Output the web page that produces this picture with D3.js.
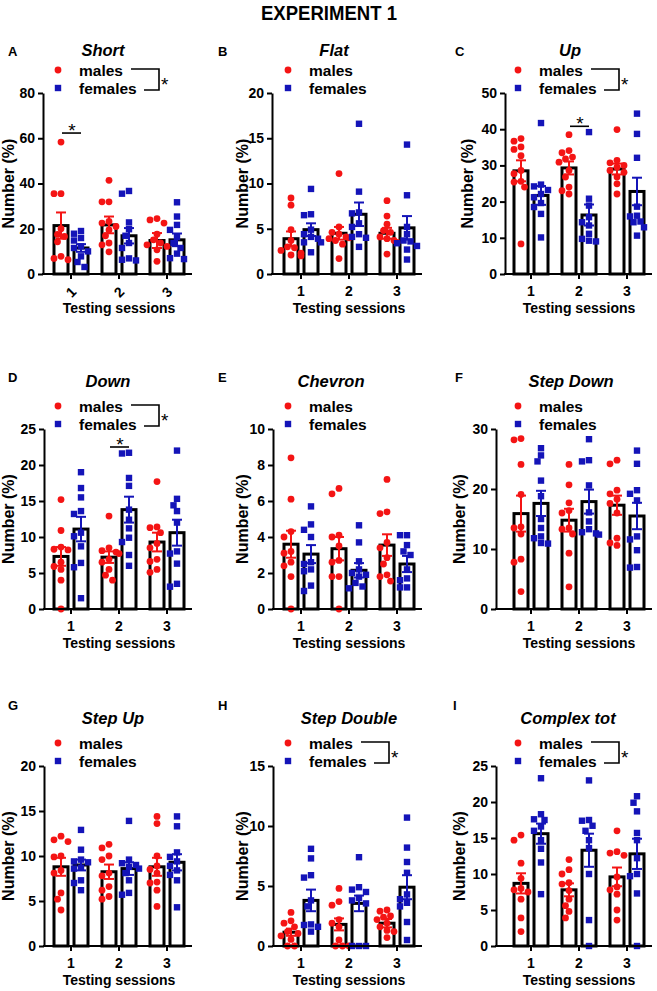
<!DOCTYPE html>
<html>
<head>
<meta charset="utf-8">
<script src="https://cdn.jsdelivr.net/npm/d3@7"></script>
<style>
  body { margin: 0; background: #fff; }
  svg { font-family: "Liberation Sans", Arial, sans-serif; }
</style>
</head>
<body>
<div id="chart"></div>
<script>
// ---- data ----
const sessions = [1, 2, 3];
const panelLetters = ["A", "B", "C", "D", "E", "F", "G", "H", "I"];
const panelTitles = ["Short", "Flat", "Up", "Down", "Chevron", "Step Down", "Step Up", "Step Double", "Complex tot"];
const yMax = [80, 20, 50, 25, 10, 30, 20, 15, 25];
const yStep = [20, 5, 10, 5, 2, 10, 5, 5, 5];
const seriesNames = ["males", "females"];

const maleMean = [[21.4, 21.7, 14.8], [3.9, 4.5, 4.5], [28.5, 29.3, 29.0], [7.3, 7.2, 9.3], [3.6, 3.35, 3.55],
                  [15.9, 14.8, 17.3], [8.8, 8.25, 8.8], [1.15, 1.8, 1.9], [8.7, 7.8, 9.6]];
const maleSem = [[5.8, 3.7, 3.3], [0.8, 0.7, 0.6], [2.9, 1.8, 1.5], [1.3, 0.8, 1.3], [0.75, 0.65, 0.6],
                 [3.0, 1.9, 1.6], [1.0, 0.8, 1.0], [0.3, 0.5, 0.35], [1.4, 0.9, 1.3]];
const femaleMean = [[11.5, 16.9, 15.1], [4.9, 6.6, 5.1], [21.7, 16.3, 22.8], [11.1, 13.8, 10.6], [3.05, 2.15, 2.5],
                    [17.6, 17.9, 15.5], [9.0, 8.6, 9.3], [3.8, 3.55, 4.9], [15.6, 13.3, 12.8]];
const femaleSem = [[1.7, 3.4, 2.8], [0.7, 1.3, 1.3], [2.6, 2.9, 3.8], [1.7, 1.8, 1.8], [0.5, 0.4, 0.45],
                   [2.1, 2.0, 2.2], [0.6, 0.7, 0.9], [0.9, 0.65, 1.0], [1.4, 2.3, 2.1]];

const malePoints = [
  [[58.3, 35.5, 35.5, 20, 17.5, 16.6, 14.2, 7.8, 6.3, 6.9], [41.4, 31.9, 31.9, 23.2, 22.5, 21, 19.5, 16.9, 13.7, 12.9, 9.8], [24.5, 23.9, 22.5, 17.6, 15.1, 13.7, 12.9, 10.7, 5.6, 12.2]],
  [[8.4, 7.6, 4.9, 3.7, 3.0, 2.9, 2.6, 2.3, 2.1, 2.0], [11.1, 4.6, 4.4, 4.1, 4.0, 3.9, 3.7, 3.3, 1.7, 5.2], [8.1, 6.4, 5.5, 4.6, 4.1, 3.9, 3.7, 3.5, 2.2, 4.8]],
  [[37.4, 36.7, 35.1, 34.4, 32.7, 28.6, 27.7, 25.6, 25.4, 24, 8.3], [38.5, 34.1, 33.5, 32.3, 31.8, 30.9, 28.6, 26.8, 24, 22.1, 23], [39.9, 31.4, 30.7, 30, 29.5, 28.6, 28.1, 26.8, 24.9, 22.1]],
  [[15.2, 10.9, 8.6, 8.3, 8.2, 6.5, 5.9, 5.5, 4.0, 0], [12.9, 8.5, 8.1, 7.9, 7.7, 6.9, 6.5, 5.5, 4.7, 4.0], [17.7, 11.4, 11.3, 10.6, 9.1, 8.5, 6.9, 6.6, 5.5, 5.1]],
  [[8.4, 6.1, 4.3, 4.0, 3.2, 3.1, 2.6, 2.4, 1.8, 0], [6.7, 6.4, 4.1, 4.0, 3.5, 2.7, 2.6, 1.8, 1.8, 0], [7.2, 5.4, 5.3, 3.7, 3.4, 2.85, 2.5, 1.9, 1.8, 1.55]],
  [[28.4, 28.2, 24.1, 19.1, 13.5, 13.7, 12.5, 8.3, 7.8, 2.9], [24.1, 20.7, 17.7, 16.4, 16.0, 13.5, 13.3, 12.5, 9.3, 3.7], [24.8, 24.2, 19.8, 19.2, 18.3, 17.6, 16.0, 11.8, 11.0, 10.6]],
  [[12.2, 11.8, 11.6, 10, 9.9, 8.4, 8.1, 5.9, 5.2, 4.0], [11.3, 10.9, 10, 9.6, 8.1, 7.8, 6.6, 6.2, 5.5, 5.2], [14.4, 13.6, 10, 8.9, 8.5, 8.1, 7.1, 7.0, 6.2, 4.4]],
  [[2.8, 2.1, 1.9, 1.6, 1.2, 1.05, 0.85, 0.55, 0, 0], [4.8, 3.7, 3.4, 2.2, 1.9, 1.6, 0.5, 0, 0, 0], [3.0, 2.9, 2.5, 2.4, 2.2, 1.9, 1.6, 1.3, 1.2, 0.7]],
  [[15.4, 14.7, 11.5, 9.4, 8, 7.8, 6.5, 3.9, 2, 7.5], [12, 10.6, 10, 8.8, 8.6, 7.7, 6.5, 5.6, 4.8, 3.9], [16, 13.1, 12.9, 12.6, 9.6, 8.2, 7.8, 7.2, 5, 3.6]]
];
const femalePoints = [
  [[19, 17.8, 15.9, 14.8, 12.2, 11.5, 10, 7.8, 5.3, 3.1], [36.7, 35.5, 22.8, 19.8, 16.9, 13.7, 11.5, 6.9, 6.3, 6.0], [31.7, 25.4, 21.7, 19.5, 16.3, 13.7, 11.5, 9, 7, 6.6]],
  [[9.4, 6.6, 6.5, 4.9, 4.4, 4.1, 3.9, 3.5, 3.5, 2.4], [16.6, 9.1, 6.8, 6.7, 5.6, 5.2, 4.4, 4.1, 4.0, 3.0], [14.3, 8.7, 5.2, 4.4, 3.7, 3.6, 3.4, 3.1, 2.7, 1.6]],
  [[41.7, 24.7, 24.2, 23.2, 22.1, 21.2, 19.6, 18.5, 16.6, 10.1], [39.2, 20.8, 18.9, 15.7, 14.3, 13.4, 11.1, 9.7, 9.2, 9.0], [44.3, 38.7, 32.1, 18.6, 16.1, 15.9, 14.5, 14.3, 12.9, 10.6]],
  [[19, 16.8, 15.5, 13.6, 13.2, 10.6, 10.1, 8.7, 6.4, 5.8, 1.5], [21.7, 21.6, 18.2, 17.1, 13.8, 12.4, 11.2, 9.9, 9.3, 7.5, 6.0], [22, 15.3, 14.4, 13.6, 12, 8, 7.7, 6.3, 3.5, 3.1]],
  [[5.7, 4.7, 4.4, 4.0, 2.6, 2.5, 2.2, 2.1, 1.3, 1.0], [4.65, 3.7, 2.65, 2.2, 2.0, 1.9, 1.8, 1.45, 1.25, 1.15], [4.1, 4.1, 3.55, 3.2, 3.0, 2.2, 1.7, 1.6, 1.2, 1.2]],
  [[26.8, 25.6, 24.6, 21.4, 18.8, 15, 13.5, 12.1, 11.8, 11, 10.9], [28.3, 24.8, 24.6, 20.6, 16.1, 14.6, 13.3, 12.8, 12.6, 12.4], [26.4, 24.2, 19.8, 19.2, 18.1, 12.1, 11.6, 9.8, 7, 6.9]],
  [[12.9, 10.7, 9.6, 9.4, 9.3, 8.7, 8.6, 7.3, 7, 6.2], [13.9, 9.6, 9.2, 9, 8.6, 8.1, 7.3, 5.9, 5.7, 8.8], [14.4, 13.3, 10.4, 9.9, 9.4, 8.9, 8.4, 7.9, 7.3, 4.3]],
  [[8.1, 7.3, 5.9, 5.7, 3.8, 3.3, 1.8, 1.75, 1.6, 1.2], [7.4, 4.9, 4.7, 4.5, 4.0, 3.8, 3.55, 0, 0, 0], [10.7, 8.2, 7, 6.1, 4.3, 3.9, 3.3, 3.6, 2, 0.5]],
  [[23.3, 18.3, 17.6, 17.5, 16.6, 16, 14.7, 13.5, 11.6, 7.2], [23, 17.5, 17.4, 16.7, 16, 14.7, 13.6, 10, 3.6, 0], [20.8, 19.9, 18.7, 15.7, 14.7, 12.2, 10, 9.7, 7.3, 0]]
];

// overall sex effect (bracket + star) and per-session star
const sexEffect = [true, false, true, true, false, false, false, true, true];
const sigSession = [1, null, 2, 2, null, null, null, null, null];
const sigValue = [62.3, null, 40.8, 22.5, null, null, null, null, null];

// ---- layout ----
const width = 657, height = 991;
const rowTop = [93, 429, 766], rowBase = [274, 609, 946];
const colTick1 = [71, 301, 531];
const axisX = [43, 272, 505, 44, 273, 496, 44, 273, 496];
const titleX = [103, 334, 570, 108, 331, 571, 113, 349, 568];
const titleY = [50, 381, 718];
const letterX = [8, 218, 455, 8, 218, 455, 8, 218, 453];
const letterY = [51, 377, 705];
const yLabelX = [8, 242, 467, 8, 242, 459, 8, 242, 459];
const legendX = [58, 288, 518];
const red = "#f41414", blue = "#1414b8";

const svg = d3.select("#chart").append("svg")
    .attr("width", width)
    .attr("height", height);

svg.append("text")
    .attr("x", 329).attr("y", 20)
    .attr("text-anchor", "middle")
    .attr("font-size", 20).attr("font-weight", "bold")
    .attr("textLength", 136).attr("lengthAdjust", "spacingAndGlyphs")
    .text("EXPERIMENT 1");

// spread points sideways where they would overlap
function swarm(vals, y, cx) {
    const placed = [];
    const offs = [0, -3.5, 3.5, -7, 7, -10, 10];
    const order = vals.map((v, i) => i).sort((a, b) => vals[b] - vals[a]);
    order.forEach(i => {
        const py = y(vals[i]);
        let ox = offs[offs.length - 1];
        for (const o of offs) {
            if (placed.every(q => Math.hypot(q.x - (cx + o), q.y - py) >= 6.6)) { ox = o; break; }
        }
        placed.push({ x: cx + ox, y: py });
    });
    return placed;
}

panelTitles.forEach((title, p) => {
    const row = Math.floor(p / 3), col = p % 3;
    const t1 = colTick1[col];
    const g = svg.append("g");

    const x = d3.scaleBand().domain(sessions).range([t1 - 24, t1 + 120]);
    const y = d3.scaleLinear().domain([0, yMax[p]]).range([rowBase[row], rowTop[row]]);
    const cx = s => x(s) + x.bandwidth() / 2;

    // panel letter and title
    g.append("text")
        .attr("x", letterX[p]).attr("y", letterY[row] + 5)
        .attr("font-size", 13).attr("font-weight", "bold")
        .text(panelLetters[p]);
    g.append("text")
        .attr("x", titleX[p]).attr("y", titleY[row] + 6)
        .attr("text-anchor", "middle")
        .attr("font-size", 16.5).attr("font-weight", "bold").attr("font-style", "italic")
        .text(title);

    // bars
    const groups = [
        { mean: maleMean[p], sem: maleSem[p], pts: malePoints[p], dx: -10, color: red },
        { mean: femaleMean[p], sem: femaleSem[p], pts: femalePoints[p], dx: 10, color: blue }
    ];
    groups.forEach(gr => {
        g.selectAll(null)
            .data(sessions)
            .join("rect")
            .attr("x", s => cx(s) + gr.dx - 7)
            .attr("width", 14)
            .attr("y", (s, i) => y(gr.mean[i]))
            .attr("height", (s, i) => y(0) - y(gr.mean[i]))
            .attr("fill", "#fff")
            .attr("stroke", "#000")
            .attr("stroke-width", 3);
    });

    // points
    groups.forEach((gr, k) => {
        sessions.forEach((s, i) => {
            const pos = swarm(gr.pts[i], y, cx(s) + gr.dx);
            if (k === 0) {
                g.selectAll(null).data(pos).join("circle")
                    .attr("cx", d => d.x).attr("cy", d => d.y)
                    .attr("r", 3.4).attr("fill", red);
            } else {
                g.selectAll(null).data(pos).join("rect")
                    .attr("x", d => d.x - 3.2).attr("y", d => d.y - 3.2)
                    .attr("width", 6.4).attr("height", 6.4).attr("fill", blue);
            }
        });
    });

    // error bars
    groups.forEach(gr => {
        sessions.forEach((s, i) => {
            const ex = cx(s) + gr.dx;
            const hi = y(gr.mean[i] + gr.sem[i]), lo = y(Math.max(0, gr.mean[i] - gr.sem[i]));
            const eb = g.append("g").attr("stroke", gr.color).attr("stroke-width", 2);
            eb.append("line").attr("x1", ex).attr("x2", ex).attr("y1", hi).attr("y2", lo);
            eb.append("line").attr("x1", ex - 5).attr("x2", ex + 5).attr("y1", hi).attr("y2", hi);
            eb.append("line").attr("x1", ex - 5).attr("x2", ex + 5).attr("y1", lo).attr("y2", lo);
        });
    });

    // y axis
    const yAxis = g.append("g")
        .attr("transform", `translate(${axisX[p]},0)`)
        .call(d3.axisLeft(y)
            .tickValues(d3.range(0, yMax[p] + yStep[p] / 2, yStep[p]))
            .tickSize(5).tickSizeOuter(0).tickPadding(3));
    yAxis.selectAll("path, line").attr("stroke", "#000").attr("stroke-width", 2);
    yAxis.selectAll("text").attr("font-size", 14).attr("font-weight", "bold")
        .attr("font-family", "Liberation Sans, Arial, sans-serif").attr("fill", "#000");

    // x axis
    const xAxis = g.append("g")
        .attr("transform", `translate(0,${rowBase[row]})`)
        .call(d3.axisBottom(x).tickSize(5).tickPadding(7));
    xAxis.select(".domain").remove();
    xAxis.selectAll("line").attr("stroke", "#000").attr("stroke-width", 2);
    xAxis.selectAll("text").attr("font-size", 14).attr("font-weight", "bold")
        .attr("font-family", "Liberation Sans, Arial, sans-serif").attr("fill", "#000");
    if (p === 0) {
        xAxis.selectAll("text")
            .attr("y", 0).attr("dy", "0.35em")
            .attr("transform", "translate(0,18) rotate(-45)");
    }
    g.append("line")
        .attr("x1", axisX[p] - 1).attr("x2", t1 + 121)
        .attr("y1", rowBase[row]).attr("y2", rowBase[row])
        .attr("stroke", "#000").attr("stroke-width", 2);

    // axis titles
    g.append("text")
        .attr("transform", `translate(${yLabelX[p]},${(rowTop[row] + rowBase[row]) / 2}) rotate(-90)`)
        .attr("text-anchor", "middle").attr("dy", "0.35em")
        .attr("font-size", 16).attr("font-weight", "bold")
        .text("Number (%)");
    g.append("text")
        .attr("x", cx(2)).attr("y", rowBase[row] + 39)
        .attr("text-anchor", "middle")
        .attr("font-size", 14).attr("font-weight", "bold")
        .text("Testing sessions");

    // legend
    const lx = legendX[col], tx = lx + 21;
    const ly1 = rowTop[row] - 23, ly2 = rowTop[row] - 5;
    g.append("circle").attr("cx", lx).attr("cy", ly1).attr("r", 3.4).attr("fill", red);
    g.append("rect").attr("x", lx - 3.2).attr("y", ly2 - 3.2).attr("width", 6.4).attr("height", 6.4).attr("fill", blue);
    g.append("text").attr("x", tx).attr("y", ly1 + 5.5)
        .attr("font-size", 15.5).attr("font-weight", "bold").text(seriesNames[0]);
    g.append("text").attr("x", tx).attr("y", ly2 + 5.5)
        .attr("font-size", 15.5).attr("font-weight", "bold").text(seriesNames[1]);

    if (sexEffect[p]) {
        const bx = tx + 80, by1 = ly1 - 1, by2 = ly2 + 2;
        g.append("path")
            .attr("d", `M${tx + 52},${by1}H${bx}V${by2}H${tx + 65}`)
            .attr("fill", "none").attr("stroke", "#000").attr("stroke-width", 1.6);
        g.append("text").attr("x", bx + 2).attr("y", (by1 + by2) / 2 + 11)
            .attr("font-size", 19).text("*");
    }

    // per-session significance
    if (sigSession[p] !== null) {
        const sx = cx(sigSession[p]);
        const sy = y(sigValue[p]);
        g.append("line")
            .attr("x1", sx - 9).attr("x2", sx + 10)
            .attr("y1", sy).attr("y2", sy)
            .attr("stroke", "#000").attr("stroke-width", 1.6);
        g.append("text").attr("x", sx + 1).attr("y", sy + 4)
            .attr("text-anchor", "middle").attr("font-size", 19).text("*");
    }
});
</script>
</body>
</html>
